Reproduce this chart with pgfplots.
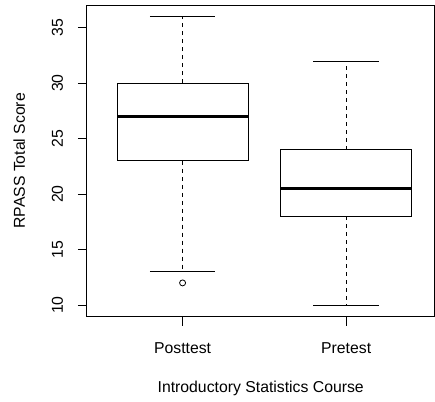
\documentclass[border=0pt]{standalone}
\usepackage{fontspec}
\setmainfont{Liberation Sans}
\usepackage{pgfplots}
\pgfplotsset{compat=1.18}
\begin{document}
\fontsize{15.8bp}{19bp}\selectfont
\begin{tikzpicture}
\begin{axis}[
  name=ax,
  scale only axis,
  clip=false,
  width=348bp, height=312bp,
  xmin=0.415, xmax=2.54,
  ymin=8.96, ymax=37.04,
  xtick={1,2}, xticklabels={Posttest,Pretest},
  ytick={10,15,20,25,30,35},
  xtick pos=left, ytick pos=left,
  xtick align=outside, ytick align=outside,
  major tick length=9bp,
  axis line style={line width=0.8bp},
  tick style={black, line width=0.8bp},
  /pgf/number format/assume math mode=true,
  yticklabel style={rotate=90, anchor=base, yshift=15bp},
  xticklabel style={anchor=base, yshift=-28bp},
  ylabel={RPASS Total Score},
  xlabel={Introductory Statistics Course},
  xlabel style={at={(rel axis cs:0.5,0)}, anchor=base, yshift=-76bp},
  ylabel style={at={(rel axis cs:0,0.5)}, anchor=base, yshift=62bp},
  box/.style={black, line width=0.8bp, no marks},
  whisk/.style={black, line width=0.8bp, no marks, dash pattern=on 4bp off 4bp},
  med/.style={black, line width=3.2bp, no marks},
  extra description/.code={
    \foreach \r in {0.03704,0.21510,0.39316,0.57123,0.74929,0.92735}
      \draw[black, line width=0.8bp] (rel axis cs:0,\r) -- ++(-9bp,0);
    \foreach \r in {0.27529,0.74588}
      \draw[black, line width=0.8bp] (rel axis cs:\r,0) -- ++(0,-9bp);
  },
]
% Posttest
\addplot[box] coordinates {(0.6,23) (1.4,23) (1.4,30) (0.6,30) (0.6,23)} -- cycle;
\addplot[med] coordinates {(0.6,27) (1.4,27)};
\addplot[whisk] coordinates {(1,30) (1,36)};
\addplot[whisk] coordinates {(1,23) (1,13)};
\addplot[box] coordinates {(0.8,36) (1.2,36)};
\addplot[box] coordinates {(0.8,13) (1.2,13)};
% Pretest
\addplot[box] coordinates {(1.6,18) (2.4,18) (2.4,24) (1.6,24) (1.6,18)} -- cycle;
\addplot[med] coordinates {(1.6,20.5) (2.4,20.5)};
\addplot[whisk] coordinates {(2,24) (2,32)};
\addplot[whisk] coordinates {(2,18) (2,10)};
\addplot[box] coordinates {(1.8,32) (2.2,32)};
\addplot[box] coordinates {(1.8,10) (2.2,10)};
% outlier
\addplot[only marks, mark=o, mark size=3bp, black, mark options={line width=0.8bp}]
  coordinates {(1,12)};
\end{axis}
\pgfresetboundingbox
\path ([shift={(-87bp,-85bp)}]ax.south west) rectangle ([shift={(0.5bp,5bp)}]ax.north east);
\end{tikzpicture}
\end{document}
